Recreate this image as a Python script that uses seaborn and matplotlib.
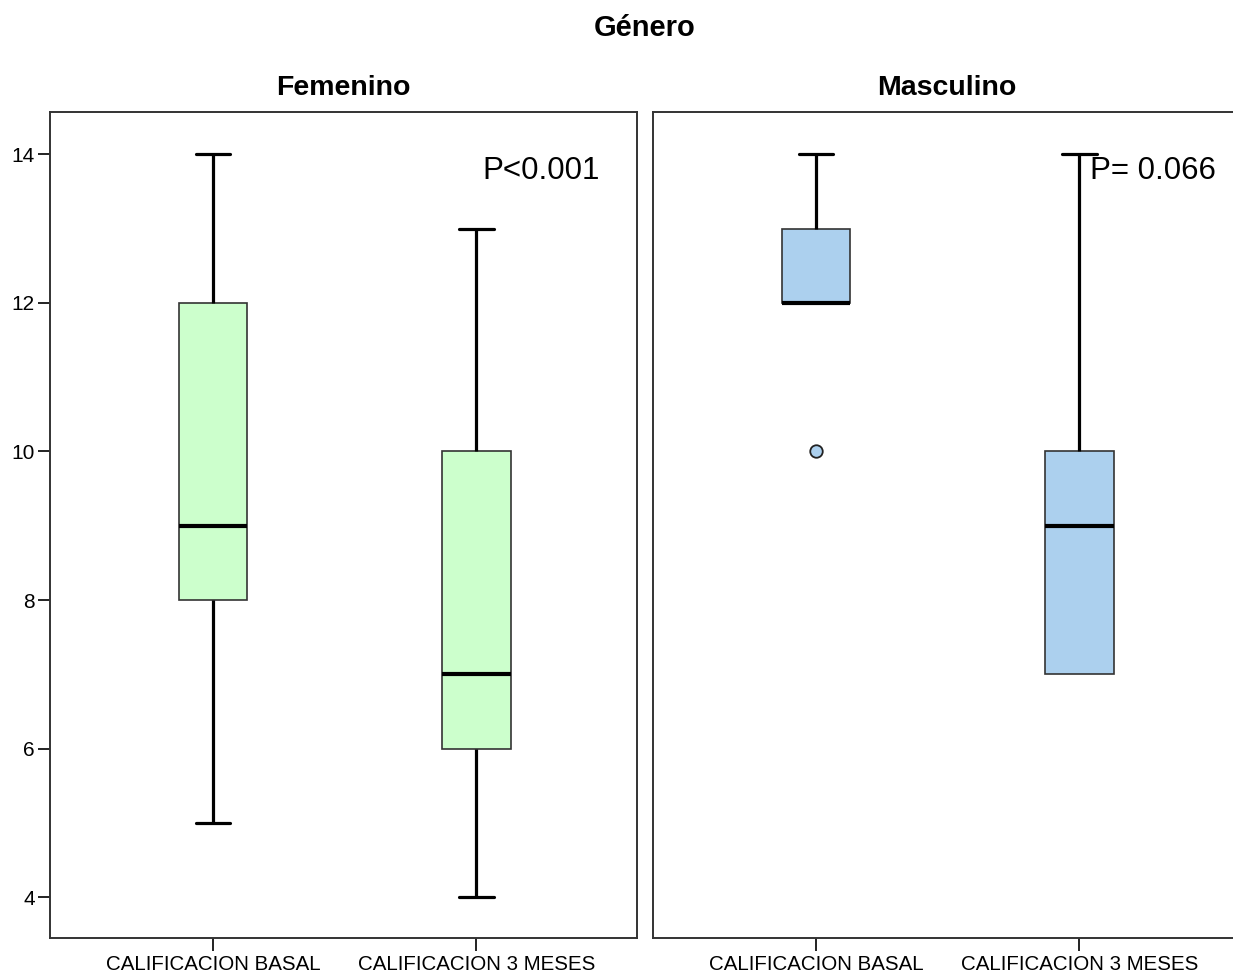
import pandas as pd
import seaborn as sns
import matplotlib.pyplot as plt

# Scores (each list reproduces the drawn box stats)
momentos = ['CALIFICACION BASAL', 'CALIFICACION 3 MESES']
fem_basal = [5, 8, 8, 9, 12, 12, 14]
fem_3m = [4, 6, 6, 7, 10, 10, 13]
masc_basal = [10, 12, 12, 12, 13, 13, 14]
masc_3m = [7, 7, 7, 9, 10, 10, 14]
p_values = ['P<0.001', 'P= 0.066']
panel_titles = ['Femenino', 'Masculino']
panel_colors = ['#ccffcc', '#acd0ee']
box_width = 0.26


def long_df(basal, tres):
    return pd.DataFrame({
        'momento': [momentos[0]] * len(basal) + [momentos[1]] * len(tres),
        'calificacion': basal + tres,
    })


frames = [long_df(fem_basal, fem_3m), long_df(masc_basal, masc_3m)]

sns.set_style("ticks")
plt.rcParams['font.family'] = ['Liberation Sans', 'DejaVu Sans']
plt.rcParams['text.color'] = 'black'

fig = plt.figure(figsize=(12.33, 9.76), dpi=100)
ax_w = 587 / 1233
ax_h = 826 / 976
bottom = 1 - 938 / 976
axes = [fig.add_axes([50 / 1233, bottom, ax_w, ax_h]),
        fig.add_axes([653 / 1233, bottom, ax_w, ax_h])]

for i, ax in enumerate(axes):
    col = panel_colors[i]
    sns.boxplot(data=frames[i], x='momento', y='calificacion', order=momentos,
                color=col, saturation=1, width=box_width, linecolor='#333333',
                linewidth=1.2, ax=ax,
                whiskerprops=dict(color='black', linewidth=2.3),
                capprops=dict(color='black', linewidth=2.3),
                medianprops=dict(color='black', linewidth=3),
                flierprops=dict(marker='o', markerfacecolor=col,
                                markeredgecolor='#222222', markersize=9,
                                markeredgewidth=1.3))

    # SPSS draws no cap when the whisker ends at the box edge
    flat = set()
    for ln in ax.lines:
        xd, yd = list(ln.get_xdata()), list(ln.get_ydata())
        if len(xd) == 2 and xd[0] == xd[1] and yd[0] == yd[1]:
            flat.add((round(float(xd[0]), 3), float(yd[0])))
    for ln in ax.lines:
        xd, yd = list(ln.get_xdata()), list(ln.get_ydata())
        if len(xd) == 2 and yd[0] == yd[1]:
            span = abs(float(xd[1]) - float(xd[0]))
            xc = round((float(xd[0]) + float(xd[1])) / 2, 3)
            if 0 < span < box_width * 0.75 and (xc, float(yd[0])) in flat:
                ln.set_visible(False)

    ax.set_xlim(-0.62, 1.61)
    ax.set_ylim(3.45, 14.57)
    ax.set_xlabel('')
    ax.set_ylabel('')
    ax.set_title(panel_titles[i], fontsize=20.5, fontweight='bold', pad=12,
                 color='black')
    ax.tick_params(axis='x', labelsize=14.8, length=9, width=1.4, pad=3,
                   colors='#222222', labelcolor='black')
    for s in ax.spines.values():
        s.set_visible(True)
        s.set_linewidth(1.4)
        s.set_color('#333333')
    ax.text(0.737 if i == 0 else 0.744, 0.929, p_values[i],
            transform=ax.transAxes, fontsize=22.5, va='center', ha='left',
            color='black')

axes[0].set_yticks([4, 6, 8, 10, 12, 14])
axes[0].tick_params(axis='y', labelsize=15, length=9, width=1.4, pad=2,
                    colors='#222222', labelcolor='black')
axes[1].set_yticks([])

fig.text(645 / 1233, 1 - 28 / 976, 'Género', ha='center', va='center',
         fontsize=21, fontweight='bold', color='black')

fig.savefig('out.png', dpi=100)
plt.close(fig)
